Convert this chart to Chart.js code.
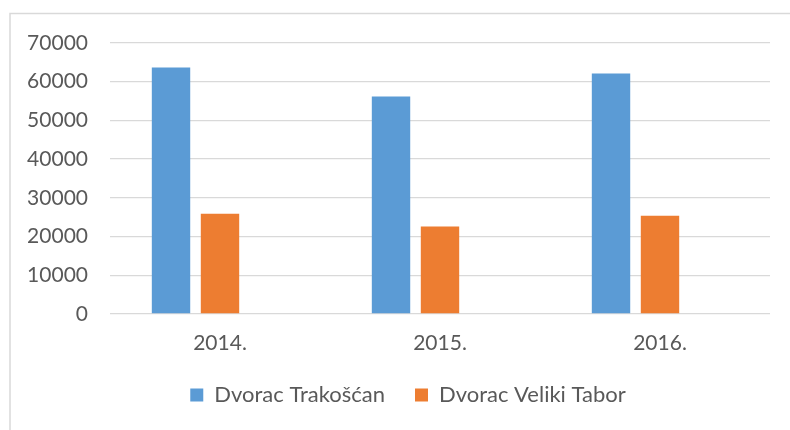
<!DOCTYPE html>
<html>
<head>
<meta charset="utf-8">
<script src="https://cdn.jsdelivr.net/npm/chart.js@4.4.1/dist/chart.umd.min.js"></script>
<style>
  html, body { margin: 0; padding: 0; background: #fff; }
  #wrap { position: relative; width: 790px; height: 430px; }
</style>
</head>
<body>
<div id="wrap"><canvas id="chart" width="790" height="430"></canvas></div>
<script>
const years = ["2014.", "2015.", "2016."];
const trakoscan = [63700, 56200, 62100];
const veliki = [25900, 22600, 25400];
const emptySeries = [null, null, null];
const yTicks = [0, 10000, 20000, 30000, 40000, 50000, 60000, 70000];

const textColor = "#595959";
const gridColor = "#d9d9d9";

// frame of the chart box (top and left edges only are visible)
const frame = {
  id: "frame",
  afterLayout(chart) {
    // legend sits a bit right of the canvas centre, like the original
    if (chart.legend) chart.legend.left = 46;
  },
  beforeDraw(chart) {
    const ctx = chart.ctx;
    ctx.save();
    ctx.strokeStyle = gridColor;
    ctx.lineWidth = 1.5;
    ctx.beginPath();
    ctx.moveTo(10, 430);
    ctx.lineTo(10, 13.5);
    ctx.lineTo(790, 13.5);
    ctx.stroke();
    ctx.restore();
  }
};

new Chart(document.getElementById("chart"), {
  type: "bar",
  data: {
    labels: years,
    datasets: [{
      label: "Dvorac Trakošćan",
      data: trakoscan,
      backgroundColor: "#5b9bd5"
    }, {
      label: "Dvorac Veliki Tabor",
      data: veliki,
      backgroundColor: "#ed7d31"
    }, {
      label: "",
      data: emptySeries,
      backgroundColor: "#a5a5a5"
    }]
  },
  options: {
    responsive: false,
    animation: false,
    layout: { padding: { left: 0, right: 20, top: 43, bottom: 14 } },
    datasets: {
      bar: { barPercentage: 0.784, categoryPercentage: 0.668 }
    },
    scales: {
      x: {
        afterFit(scale) { scale.height = 40; },
        grid: { display: false, drawTicks: false },
        border: { display: false },
        ticks: { color: textColor, font: { family: "Lato", size: 21 }, padding: 17 }
      },
      y: {
        min: 0,
        max: 70000,
        afterFit(scale) { scale.width = 110; },
        afterBuildTicks(scale) { scale.ticks = yTicks.map(v => ({ value: v })); },
        grid: { color: gridColor, lineWidth: 1.3, drawTicks: false },
        border: { display: false },
        ticks: {
          color: textColor,
          font: { family: "Lato", size: 21 },
          padding: 22,
          callback: v => String(v)
        }
      }
    },
    plugins: {
      tooltip: { enabled: false },
      legend: {
        position: "bottom",
        labels: {
          color: textColor,
          font: { family: "Lato", size: 22 },
          boxWidth: 13,
          boxHeight: 13,
          padding: 30,
          filter: item => item.datasetIndex < 2
        }
      }
    }
  },
  plugins: [frame]
});
</script>
</body>
</html>
